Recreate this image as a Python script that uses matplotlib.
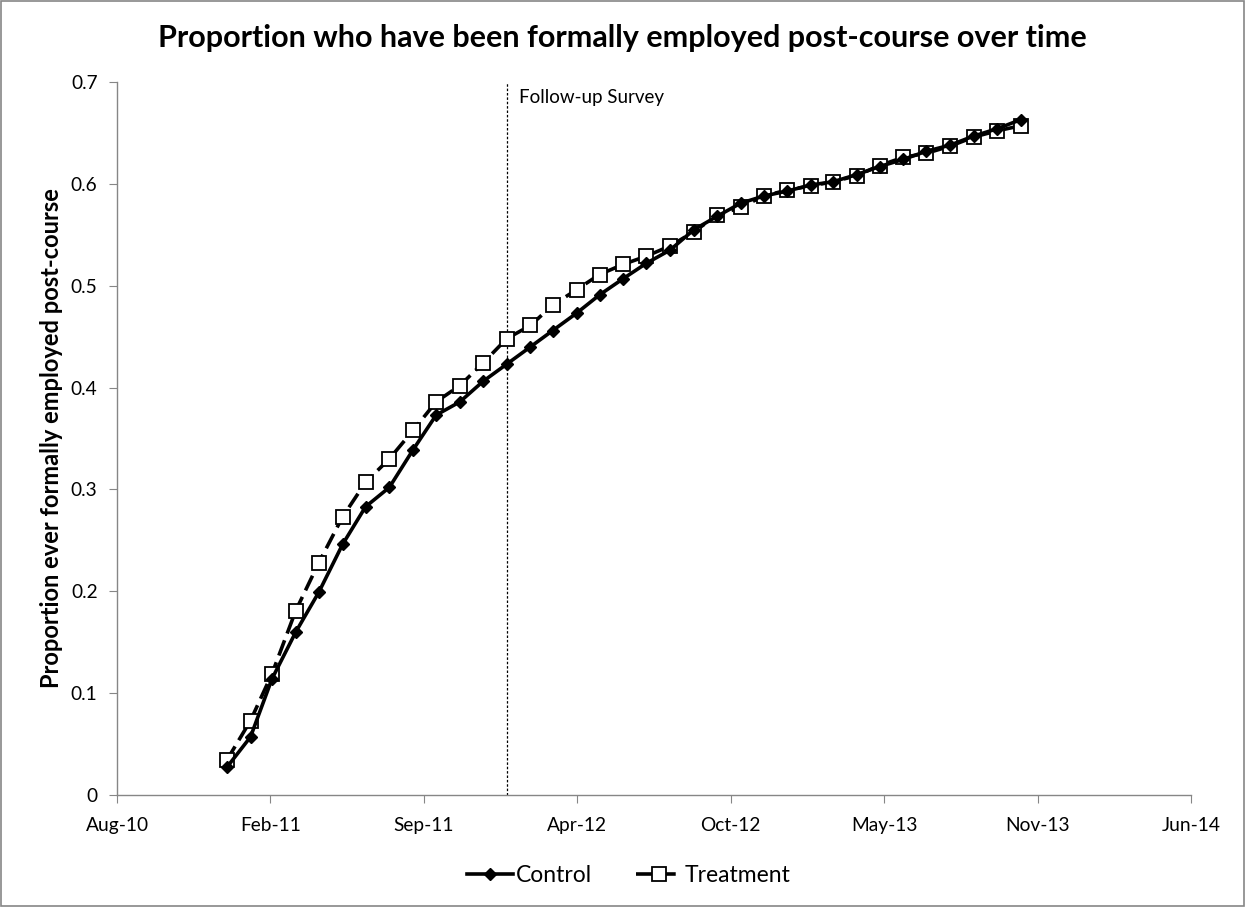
import pandas as pd
import matplotlib
matplotlib.use('Agg')
import matplotlib.pyplot as plt
import matplotlib.dates as mdates
from matplotlib.patches import Rectangle

plt.rcParams['font.family'] = ['Lato', 'DejaVu Sans']

# monthly observations Jan-11 .. Nov-13
months = pd.date_range('2011-01-01', '2013-11-01', freq='MS')
control = [0.027, 0.057, 0.114, 0.160, 0.199, 0.246, 0.283, 0.302, 0.339, 0.373,
           0.386, 0.406, 0.423, 0.440, 0.456, 0.473, 0.491, 0.507, 0.522, 0.535,
           0.555, 0.568, 0.581, 0.588, 0.593, 0.599, 0.602, 0.609, 0.617, 0.624,
           0.632, 0.638, 0.647, 0.654, 0.663]
treatment = [0.034, 0.073, 0.119, 0.181, 0.228, 0.273, 0.307, 0.330, 0.358, 0.386,
             0.402, 0.424, 0.448, 0.461, 0.481, 0.496, 0.511, 0.521, 0.529, 0.539,
             0.553, 0.569, 0.577, 0.588, 0.594, 0.598, 0.602, 0.608, 0.618, 0.626,
             0.630, 0.637, 0.646, 0.652, 0.657]
survey_date = pd.Timestamp('2012-01-01')
x_ticks = pd.date_range('2010-08-11', periods=8, freq='200D')

fig = plt.figure(figsize=(12.45, 9.07), dpi=100)
ax = fig.add_axes([0.094, 0.1235, 0.8626, 0.7861])

ax.plot(months, control, color='black', lw=2.6, marker='D', ms=6,
        mfc='black', mec='black', label='Control', zorder=3)
ax.plot(months, treatment, color='black', lw=2.6, ls=(0, (4.5, 2)), marker='s', ms=10,
        mfc='white', mec='black', mew=1.3, label='Treatment', zorder=2)

ax.axvline(survey_date, color='black', lw=0.9, ls=(0, (2, 1.5)), zorder=1)
ax.text(survey_date + pd.Timedelta(days=16), 0.685, 'Follow-up Survey',
        fontsize=13.5, va='center', ha='left')

ax.set_xlim(x_ticks[0], x_ticks[-1])
ax.set_ylim(0, 0.7)
ax.set_xticks(x_ticks)
ax.xaxis.set_major_formatter(mdates.DateFormatter('%b-%y'))
ax.set_yticks([0, 0.1, 0.2, 0.3, 0.4, 0.5, 0.6, 0.7])
ax.set_yticklabels(['0', '0.1', '0.2', '0.3', '0.4', '0.5', '0.6', '0.7'])

for s in ['top', 'right']:
    ax.spines[s].set_visible(False)
for s in ['left', 'bottom']:
    ax.spines[s].set_color('#868686')
    ax.spines[s].set_linewidth(1)
ax.tick_params(axis='both', colors='#868686', labelcolor='black', labelsize=13.8,
               length=6, direction='out')
ax.tick_params(axis='x', pad=10)
ax.tick_params(axis='y', pad=8)

ax.set_ylabel('Proportion ever formally employed post-course', fontsize=17,
              fontweight='bold', labelpad=6)
fig.text(0.5, 0.958, 'Proportion who have been formally employed post-course over time',
         fontsize=22, fontweight='bold', ha='center', va='center')

fig.legend(loc='center', bbox_to_anchor=(0.505, 0.035), ncol=2, frameon=False,
           fontsize=16.5, handlelength=2.0, columnspacing=1.9, handletextpad=0.15)

fig.add_artist(Rectangle((0.001, 0.001), 0.998, 0.998, transform=fig.transFigure,
                         fill=False, edgecolor='#868686', lw=1.2))

fig.savefig('out.png', dpi=100)
